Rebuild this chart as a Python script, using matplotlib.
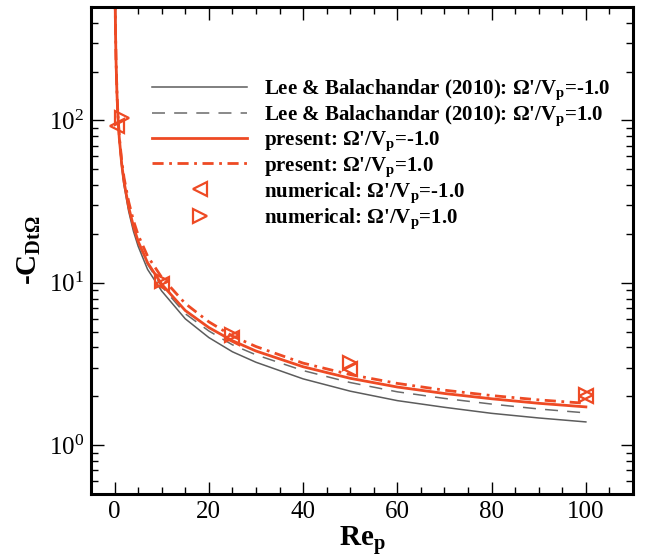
import math
import matplotlib
matplotlib.use('Agg')
import matplotlib.pyplot as plt
from matplotlib.ticker import MultipleLocator, LogLocator, FuncFormatter, NullFormatter

plt.rcParams['font.family'] = ['Liberation Serif', 'DejaVu Serif']
plt.rcParams['mathtext.fontset'] = 'custom'
plt.rcParams['mathtext.rm'] = 'Liberation Serif'
plt.rcParams['mathtext.bf'] = 'Liberation Serif:bold'
plt.rcParams['mathtext.it'] = 'Liberation Serif:italic'

# ---- data ----
re_curve = [0.1, 0.15, 0.2, 0.3, 0.5, 0.7, 1, 1.5, 2, 3, 4, 5, 7, 10, 15, 20, 25, 30,
            40, 50, 60, 70, 80, 90, 100]
lee_neg = [700, 468, 352, 237, 145, 105, 76, 52, 40, 27.5, 20.8, 16.8, 12.1, 8.9, 6.0,
           4.6, 3.76, 3.24, 2.56, 2.15, 1.88, 1.71, 1.57, 1.47, 1.39]
lee_pos = [700, 470, 355, 240, 148, 108, 78, 54, 41.5, 28.8, 22.0, 17.7, 13.0, 9.5, 6.45,
           5.05, 4.15, 3.6, 2.88, 2.43, 2.13, 1.94, 1.79, 1.67, 1.58]
present_neg = [700, 470, 355, 240, 148, 108, 78, 54.5, 42, 29.2, 22.3, 18.0, 13.3, 9.8, 6.75,
               5.3, 4.4, 3.8, 3.04, 2.58, 2.28, 2.08, 1.93, 1.81, 1.72]
present_pos = [700, 475, 360, 245, 151, 111, 80, 57, 44.5, 31.5, 24.2, 19.7, 14.6, 10.8, 7.45,
               5.75, 4.7, 4.05, 3.2, 2.72, 2.40, 2.18, 2.02, 1.90, 1.81]

re_num_neg = [0.5, 10, 25, 50, 100]
num_neg = [93, 9.9, 4.6, 2.95, 2.0]
re_num_pos = [1.5, 10, 25, 50, 100]
num_pos = [104, 10.3, 4.8, 3.2, 2.05]

labels = [
    r"Lee & Balachandar (2010): Ω'/V$_\mathbf{p}$=-1.0",
    r"Lee & Balachandar (2010): Ω'/V$_\mathbf{p}$=1.0",
    r"present: Ω'/V$_\mathbf{p}$=-1.0",
    r"present: Ω'/V$_\mathbf{p}$=1.0",
    r"numerical: Ω'/V$_\mathbf{p}$=-1.0",
    r"numerical: Ω'/V$_\mathbf{p}$=1.0",
]

RED = '#EE4A24'
GRAY = '#5c5c5c'

fig = plt.figure(figsize=(6.49, 5.58), dpi=100)
ax = fig.add_axes([91/649, 64/558, 542/649, 487/558])

ax.plot(re_curve, lee_neg, color=GRAY, lw=1.1, label=labels[0])
ax.plot(re_curve, lee_pos, color='#6a6a6a', lw=1.1, dashes=(8.5, 6.0), label=labels[1])
ax.plot(re_curve, present_neg, color=RED, lw=2.0, label=labels[2])
ax.plot(re_curve, present_pos, color=RED, lw=2.0, dashes=(4.0, 2.0, 1.0, 2.0), label=labels[3])
ax.plot(re_num_neg, num_neg, ls='none', marker='<', ms=10, mfc='none', mec=RED, mew=1.6,
        label=labels[4])
ax.plot(re_num_pos, num_pos, ls='none', marker='>', ms=10, mfc='none', mec=RED, mew=1.6,
        label=labels[5])

ax.set_yscale('log')
ax.set_xlim(-5, 110)
ax.set_ylim(0.5, 500)

ax.xaxis.set_major_locator(MultipleLocator(20))
ax.xaxis.set_minor_locator(MultipleLocator(5))
ax.yaxis.set_major_locator(LogLocator(base=10, numticks=10))
ax.yaxis.set_minor_locator(LogLocator(base=10, subs=range(2, 10), numticks=20))
ax.yaxis.set_minor_formatter(NullFormatter())
ax.yaxis.set_major_formatter(FuncFormatter(lambda v, p: r'$\mathrm{10^{%d}}$' % round(math.log10(v))))

ax.tick_params(which='both', direction='in', top=True, right=True, labelsize=18)
ax.tick_params(which='major', length=9, width=1.0, pad=5)
ax.tick_params(which='minor', length=5, width=1.0)
for s in ax.spines.values():
    s.set_linewidth(2.2)

ax.set_xlabel(r'Re$_\mathbf{p}$', fontsize=21, fontweight='bold', labelpad=1)
ax.set_ylabel(r'-C$_{\mathbf{Dt\Omega}}$', fontsize=21, fontweight='bold', labelpad=4)

leg = ax.legend(loc='upper left', bbox_to_anchor=(0.1125, 0.855), frameon=False,
                prop={'family': 'Liberation Serif', 'weight': 'bold', 'size': 15},
                handlelength=4.57, handletextpad=0.8, labelspacing=0.08, borderpad=0,
                borderaxespad=0)

fig.savefig('out.png', dpi=100)
